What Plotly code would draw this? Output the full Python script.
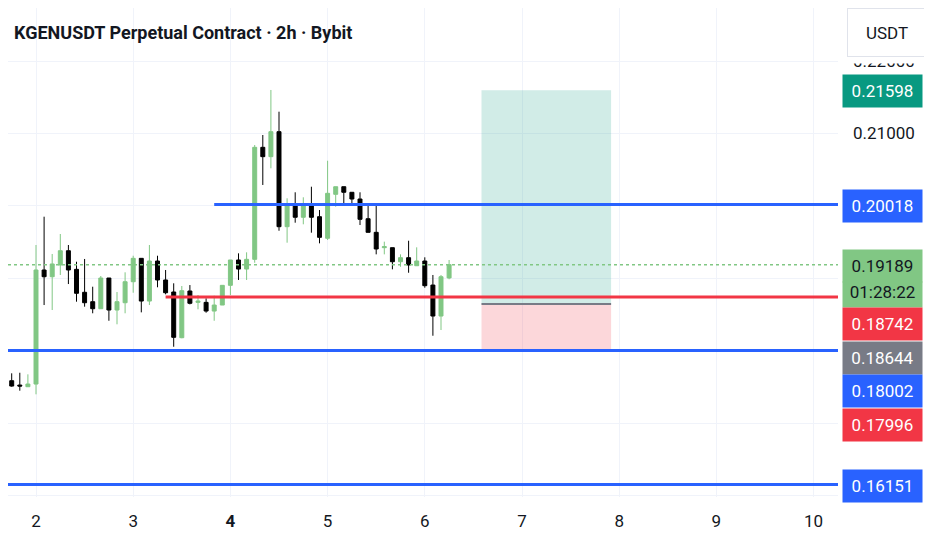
import plotly.graph_objects as go

# ----------------------------
# 2h K線資料
# ----------------------------
opens = [0.17688, 0.17586, 0.17526, 0.17503, 0.17540, 0.19115, 0.19022, 0.19184, 0.19381, 0.19124,
         0.18807, 0.18677, 0.18580, 0.19004, 0.18562, 0.18663, 0.18953, 0.19276, 0.18686, 0.19239,
         0.18977, 0.18811, 0.18180, 0.18825, 0.18668, 0.18668, 0.18548, 0.18631, 0.18903, 0.19253,
         0.19128, 0.19262, 0.20809, 0.20680, 0.21025, 0.19713, 0.20012, 0.19843, 0.20003, 0.19851,
         0.19553, 0.20160, 0.20265, 0.20188, 0.20095, 0.19823, 0.19635, 0.19423, 0.19423, 0.19229,
         0.19285, 0.19174, 0.19239, 0.18907, 0.18479, 0.19005]
highs = [0.17771, 0.17688, 0.17696, 0.17674, 0.19460, 0.19851, 0.19336, 0.19612, 0.19460, 0.19229,
         0.19267, 0.18884, 0.19032, 0.19004, 0.18811, 0.19083, 0.19312, 0.19276, 0.19460, 0.19312,
         0.19115, 0.18931, 0.18894, 0.18907, 0.18769, 0.18724, 0.18760, 0.18903, 0.19253, 0.19345,
         0.19359, 0.20841, 0.20979, 0.21601, 0.21301, 0.20105, 0.20188, 0.20119, 0.20265, 0.19943,
         0.20624, 0.20265, 0.20265, 0.20188, 0.20188, 0.20026, 0.20012, 0.19506, 0.19423, 0.19331,
         0.19519, 0.19428, 0.19290, 0.19046, 0.19046, 0.19253]
lows = [0.17590, 0.17503, 0.17448, 0.17500, 0.17398, 0.18631, 0.18562, 0.19046, 0.18921, 0.18677,
        0.18608, 0.18517, 0.18580, 0.18414, 0.18365, 0.18517, 0.18801, 0.18530, 0.18631, 0.18876,
        0.18779, 0.18055, 0.18172, 0.18640, 0.18572, 0.18525, 0.18414, 0.18631, 0.18769, 0.18977,
        0.18977, 0.19215, 0.20289, 0.20519, 0.19657, 0.19492, 0.19768, 0.19746, 0.19630, 0.19483,
        0.19529, 0.19989, 0.19999, 0.20022, 0.19736, 0.19635, 0.19331, 0.19331, 0.19124, 0.19160,
        0.19077, 0.19174, 0.18870, 0.18207, 0.18286, 0.18987]
closes = [0.17595, 0.17512, 0.17512, 0.17540, 0.19115, 0.19022, 0.19198, 0.19381, 0.19115, 0.18793,
          0.18663, 0.18580, 0.19004, 0.18562, 0.18677, 0.18953, 0.19276, 0.18686, 0.19239, 0.18977,
          0.18801, 0.18185, 0.18829, 0.18655, 0.18686, 0.18548, 0.18631, 0.18903, 0.19253, 0.19128,
          0.19262, 0.20809, 0.20680, 0.21025, 0.19713, 0.20012, 0.19843, 0.20003, 0.19843, 0.19566,
          0.20174, 0.20265, 0.20188, 0.20095, 0.19815, 0.19635, 0.19405, 0.19437, 0.19229, 0.19285,
          0.19184, 0.19239, 0.18898, 0.18479, 0.19022, 0.19189]

first_bar = 1 + 16 / 24      # 第一根K線: 1日 16:00
bar_step = 2 / 24            # 2小時
x_bars = [first_bar + i * bar_step for i in range(len(closes))]

# ----------------------------
# 畫線 (水平線 + 多單工具)
# ----------------------------
target = 0.21598
resistance = 0.20018
red_level = 0.18742
entry = 0.18644
support = 0.18002
stop = 0.17996
low_support = 0.16151
resistance_start = 3 + 20 / 24
red_start = 3 + 8 / 24
box_start = 6 + 14 / 24
box_end = 7 + 22 / 24
countdown = "01:28:22"

day_ticks = [2, 3, 4, 5, 6, 7, 8, 9, 10]
price_ticks = [0.16, 0.17, 0.18, 0.19, 0.20, 0.21, 0.22]
shown_price_ticks = [0.21, 0.22]

# ----------------------------
# 版面 (頁面 body 有 8px 邊距, 圖縮小 8px 補回)
# ----------------------------
W, H = 924, 542
M = dict(l=0, r=94, t=0, b=53)
plot_h = H - M['t'] - M['b']
x_rng = [1.7119, 10.251]
y_rng = [0.1598, 0.22733]

FONT = "Roboto, 'Noto Sans', sans-serif"
TXT = '#131722'
UP = '#81c784'
DOWN = '#000000'
BLUE = '#2962ff'
RED = '#f23645'
GRID = '#f0f3fa'

fig = go.Figure()

# K線
fig.add_trace(go.Candlestick(
    x=x_bars, open=opens, high=highs, low=lows, close=closes,
    increasing=dict(line=dict(color=UP, width=1), fillcolor=UP),
    decreasing=dict(line=dict(color=DOWN, width=1), fillcolor=DOWN),
    whiskerwidth=0, hoverinfo='skip', showlegend=False
))

shapes = []
# 多單工具: 獲利區 / 停損區 / 進場
shapes.append(dict(type='rect', xref='x', yref='y', x0=box_start, x1=box_end, y0=entry, y1=target,
                   fillcolor='rgba(8,153,129,0.19)', line=dict(width=0)))
shapes.append(dict(type='rect', xref='x', yref='y', x0=box_start, x1=box_end, y0=stop, y1=entry,
                   fillcolor='rgba(242,54,69,0.2)', line=dict(width=0)))
# 現價虛線
shapes.append(dict(type='line', xref='x', yref='y', x0=x_rng[0], x1=x_rng[1], y0=closes[-1], y1=closes[-1],
                   line=dict(color=UP, width=1.5, dash='dot')))
# 水平線
for x0, lvl, col in [(resistance_start, resistance, BLUE), (red_start, red_level, RED),
                     (x_rng[0], support, BLUE), (x_rng[0], low_support, BLUE)]:
    shapes.append(dict(type='line', xref='x', yref='y', x0=x0, x1=x_rng[1], y0=lvl, y1=lvl,
                       line=dict(color=col, width=3)))
shapes.append(dict(type='line', xref='x', yref='y', x0=box_start, x1=box_end, y0=entry, y1=entry,
                   line=dict(color='#787b86', width=2)))

# ----------------------------
# 右側價格標籤 (重疊時往下堆)
# ----------------------------
def to_px(v):
    return (y_rng[1] - v) / (y_rng[1] - y_rng[0]) * plot_h

tags = [
    (target, f"{target:.5f}", '#089981', 'white', None),
    (resistance, f"{resistance:.5f}", BLUE, 'white', None),
    (closes[-1], f"{closes[-1]:.5f}", UP, TXT, countdown),
    (red_level, f"{red_level:.5f}", RED, 'white', None),
    (entry, f"{entry:.5f}", '#787b86', 'white', None),
    (support, f"{support:.5f}", BLUE, 'white', None),
    (stop, f"{stop:.5f}", RED, 'white', None),
    (low_support, f"{low_support:.5f}", BLUE, 'white', None),
]
tags.sort(key=lambda t: -t[0])

box_h, sub_h, gap = 32, 25, 1.5
annotations = []
prev_bottom = -1e9
for v, text, bg, fg, sub in tags:
    top = max(to_px(v) - box_h / 2, prev_bottom + gap)
    annotations.append(dict(
        x=1, xref='paper', xanchor='left', xshift=4,
        y=v, yref='y', yanchor='top', yshift=to_px(v) - top,
        text=text, showarrow=False, width=79, height=box_h, align='center', valign='middle',
        bgcolor=bg, borderpad=0, font=dict(family=FONT, size=17, color=fg)
    ))
    prev_bottom = top + box_h
    if sub:
        annotations.append(dict(
            x=1, xref='paper', xanchor='left', xshift=4,
            y=v, yref='y', yanchor='top', yshift=to_px(v) - prev_bottom,
            text=sub, showarrow=False, width=79, height=sub_h, align='center', valign='top',
            bgcolor=bg, borderpad=0, font=dict(family=FONT, size=17, color=fg)
        ))
        prev_bottom += sub_h

# 標題
annotations.append(dict(
    x=0, xref='paper', xanchor='left', xshift=4, y=1, yref='paper', yanchor='middle', yshift=-24,
    text="KGENUSDT Perpetual Contract · 2h · Bybit", showarrow=False,
    font=dict(family=FONT, size=18, color=TXT, weight=700)
))
# USDT 按鈕 (下方留白蓋住部分 0.22000)
annotations.append(dict(
    x=1, xref='paper', xanchor='left', xshift=4, y=1, yref='paper', yanchor='top', yshift=0,
    text="", showarrow=False, width=90, height=54, borderpad=0, bgcolor='white'
))
annotations.append(dict(
    x=1, xref='paper', xanchor='left', xshift=9, y=1, yref='paper', yanchor='top', yshift=0,
    text="USDT", showarrow=False, width=78, height=47, borderpad=0,
    bgcolor='white', bordercolor='#e0e3eb', borderwidth=1,
    font=dict(family=FONT, size=17, color=TXT)
))

fig.update_layout(
    width=W, height=H, margin=M,
    paper_bgcolor='white', plot_bgcolor='white',
    shapes=shapes, annotations=annotations,
    xaxis=dict(range=x_rng, tickvals=day_ticks,
               ticktext=[f"<b>{d}</b>" if d == 4 else str(d) for d in day_ticks],
               showgrid=True, gridcolor=GRID, zeroline=False, showline=False, ticks='',
               ticklabelstandoff=12, tickfont=dict(family=FONT, size=17, color=TXT),
               rangeslider=dict(visible=False), fixedrange=True),
    yaxis=dict(range=y_rng, side='right', tickvals=price_ticks,
               ticktext=[f"{p:.5f}" if p in shown_price_ticks else "" for p in price_ticks],
               showgrid=True, gridcolor=GRID, zeroline=False, showline=False, ticks='',
               ticklabelstandoff=14, tickfont=dict(family=FONT, size=17, color=TXT), fixedrange=True),
)

fig.write_html("out.html")
